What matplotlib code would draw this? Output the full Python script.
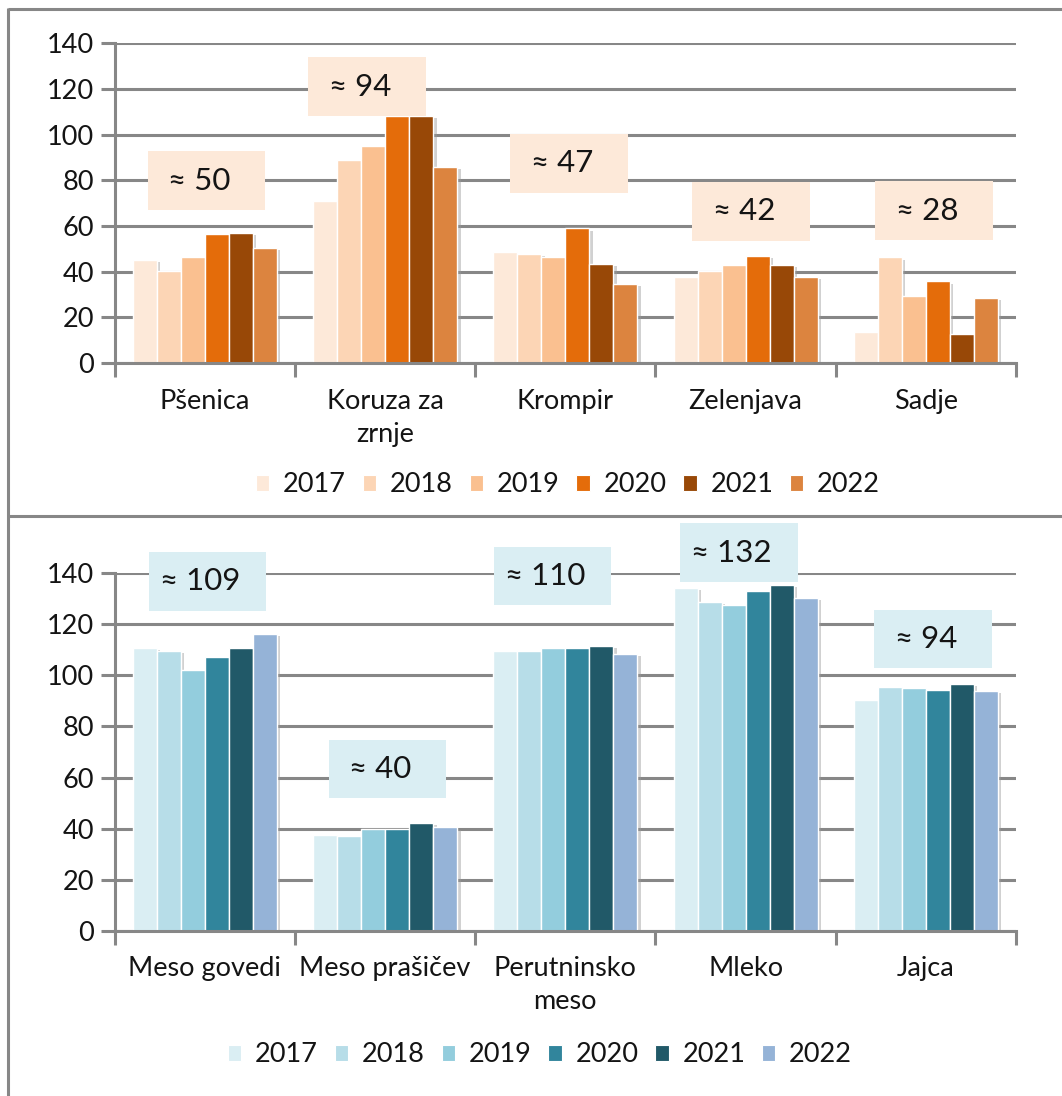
import matplotlib
matplotlib.use("Agg")
import matplotlib.pyplot as plt
import matplotlib.patheffects as pe
from matplotlib.patches import Rectangle, Patch
from matplotlib.lines import Line2D
import numpy as np

plt.rcParams['font.family'] = ['Lato', 'DejaVu Sans']

# ---------------- data ----------------
years = ["2017", "2018", "2019", "2020", "2021", "2022"]

top_categories = ["Pšenica", "Koruza za\nzrnje", "Krompir", "Zelenjava", "Sadje"]
top_2017 = [45.2, 70.8, 48.8, 37.7, 13.6]
top_2018 = [40.4, 88.9, 47.7, 40.4, 46.2]
top_2019 = [46.5, 95.1, 46.2, 42.9, 29.3]
top_2020 = [56.5, 108.1, 58.9, 47.0, 35.7]
top_2021 = [57.0, 108.1, 43.3, 42.9, 12.9]
top_2022 = [50.3, 85.7, 34.5, 37.7, 28.4]
top_labels = ["≈ 50", "≈ 94", "≈ 47", "≈ 42", "≈ 28"]

bot_categories = ["Meso govedi", "Meso prašičev", "Perutninsko\nmeso", "Mleko", "Jajca"]
bot_2017 = [110.6, 37.7, 109.5, 134.0, 90.3]
bot_2018 = [109.5, 37.2, 109.5, 128.5, 95.4]
bot_2019 = [102.2, 40.0, 110.6, 127.3, 94.9]
bot_2020 = [107.3, 40.0, 110.6, 133.0, 94.3]
bot_2021 = [110.6, 42.2, 111.6, 135.2, 96.6]
bot_2022 = [116.0, 40.5, 108.3, 130.1, 93.7]
bot_labels = ["≈ 109", "≈ 40", "≈ 110", "≈ 132", "≈ 94"]

yticks = [0, 20, 40, 60, 80, 100, 120, 140]

# ---------------- styles / layout ----------------
top_colors = ["#FDE9D9", "#FCD5B5", "#FAC090", "#E46C0A", "#984807", "#DC843F"]
bot_colors = ["#DAEEF3", "#B7DDE8", "#93CDDD", "#31859C", "#215968", "#95B3D7"]
top_box_color = "#FDE9D9"
bot_box_color = "#DAEEF3"
# box centre offset (in category units) and centre height / box height (data units)
top_box_dx = [0.01, -0.10, 0.02, 0.03, 0.045]
top_box_yc = [79.8, 120.9, 87.5, 66.5, 66.7]
top_box_h = 25.8
bot_box_dx = [0.017, 0.014, -0.07, -0.037, 0.04]
bot_box_yc = [136.7, 63.4, 138.8, 148.0, 114.2]
bot_box_h = 22.8
box_w = 0.65

GRID = "#878787"
TXT = "#141414"
FS = 19.5
W, H = 1062, 1096
fig = plt.figure(figsize=(W / 100, H / 100), dpi=100)

# panel frame lines
def fx(px):
    return px / W
def fy(py):
    return 1 - py / H

frame_kw = dict(color="#878787", lw=2.2, transform=fig.transFigure, solid_capstyle="butt")
fig.add_artist(Line2D([fx(8), 1], [fy(9), fy(9)], **frame_kw))
fig.add_artist(Line2D([fx(8), fx(8)], [fy(8), 0], **frame_kw))
fig.add_artist(Line2D([fx(8), 1], [fy(516), fy(516)], **frame_kw))


def panel(rect, cats, series, colors, labels, box_dx, box_yc, box_h, box_color,
          legend_xy, label_pad):
    ax = fig.add_axes(rect)
    n = len(series)
    x = np.arange(len(cats))
    group = 0.80
    bw = group / n
    shadow = [pe.SimplePatchShadow(offset=(2.5, -1.5), shadow_rgbFace="#9a9a9a", alpha=0.45),
              pe.Normal()]
    handles = []
    for i, (vals, c) in enumerate(zip(series, colors)):
        bars = ax.bar(x - group / 2 + bw * (i + 0.5), vals, width=bw, color=c,
                      edgecolor="white", linewidth=1.0, zorder=3)
        for b in bars:
            b.set_path_effects(shadow)
        handles.append(Patch(facecolor=c, edgecolor="white", linewidth=0.8))
    ax.set_xlim(-0.5, len(cats) - 0.5)
    ax.set_ylim(0, 140)
    ax.set_yticks(yticks)
    ax.yaxis.grid(True, color=GRID, lw=2.2, zorder=0)
    ax.set_axisbelow(True)
    ax.set_xticks(np.arange(-0.5, len(cats)), labels=[""] * (len(cats) + 1))
    ax.set_xticks(x, labels=cats, minor=True)
    ax.tick_params(axis="x", which="major", length=10, width=2.2, color=GRID, direction="out")
    ax.tick_params(axis="x", which="minor", length=0, labelsize=FS, pad=label_pad,
                   labelcolor=TXT)
    ax.tick_params(axis="y", length=10, width=2.2, color=GRID, labelsize=FS,
                   labelcolor=TXT, pad=5)
    for lab in ax.get_xticklabels(minor=True):
        lab.set_linespacing(1.4)
    for s in ["top", "right"]:
        ax.spines[s].set_visible(False)
    for s in ["left", "bottom"]:
        ax.spines[s].set_color(GRID)
        ax.spines[s].set_linewidth(2.2)
        ax.spines[s].set_zorder(4)
    # annotation boxes
    for i, (lab, dx, yc) in enumerate(zip(labels, box_dx, box_yc)):
        cx = x[i] + dx
        r = Rectangle((cx - box_w / 2, yc - box_h / 2), box_w, box_h, facecolor=box_color,
                      edgecolor="none", zorder=5, clip_on=False)
        ax.add_patch(r)
        ax.text(cx - 0.04, yc, lab, ha="center", va="center", fontsize=22.5,
                color=TXT, zorder=6, clip_on=False)
    fig.legend(handles, years, loc="center", bbox_to_anchor=legend_xy, ncol=n,
               frameon=False, fontsize=FS, handlelength=0.5, handleheight=0.5,
               handletextpad=0.5, columnspacing=0.62, labelcolor=TXT)
    return ax


ax1 = panel([fx(114.7), fy(363), fx(1016) - fx(114.7), fy(43.3) - fy(363)],
            top_categories,
            [top_2017, top_2018, top_2019, top_2020, top_2021, top_2022],
            top_colors, top_labels, top_box_dx, top_box_yc, top_box_h, top_box_color,
            (fx(568), fy(485)), 19)

ax2 = panel([fx(114.7), fy(931), fx(1016) - fx(114.7), fy(573) - fy(931)],
            bot_categories,
            [bot_2017, bot_2018, bot_2019, bot_2020, bot_2021, bot_2022],
            bot_colors, bot_labels, bot_box_dx, bot_box_yc, bot_box_h, bot_box_color,
            (fx(540), fy(1055)), 18)

fig.savefig("out.png", dpi=100)
